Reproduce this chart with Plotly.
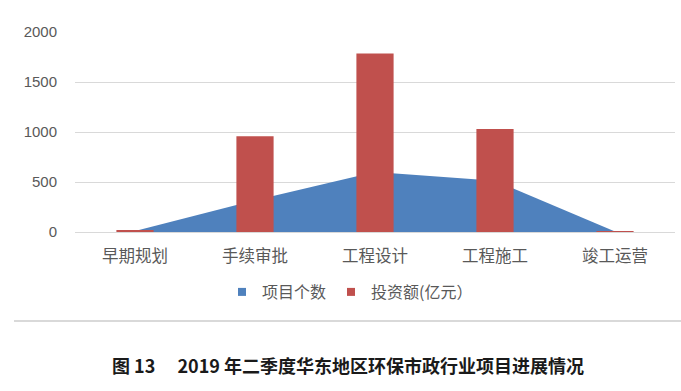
import plotly.graph_objects as go

categories = ['早期规划', '手续审批', '工程设计', '工程施工', '竣工运营']
project_count = [10, 318, 600, 512, 5]
investment = [20, 958, 1785, 1030, 8]
y_ticks = [0, 500, 1000, 1500, 2000]
series_names = ['项目个数', '投资额(亿元）']
caption = '图 13\u3000 2019 年二季度华东地区环保市政行业项目进展情况'

BLUE = '#4F81BD'
RED = '#C0504D'
GRAY_TXT = '#595959'
W, H = 681, 391

fig = go.Figure()
# area (behind bars, on main axis)
fig.add_trace(go.Scatter(x=categories, y=project_count, mode='none', fill='tozeroy',
                         fillcolor=BLUE, showlegend=False, hoverinfo='skip'))
# bars on overlaying axis so they draw above the area
fig.add_trace(go.Bar(x=categories, y=investment, marker=dict(color=RED, line=dict(width=0)),
                     width=0.31, yaxis='y2', showlegend=False))
# legend entries
fig.add_trace(go.Scatter(x=[None], y=[None], mode='markers', name=series_names[0],
                         marker=dict(symbol='square', size=8, color=BLUE)))
fig.add_trace(go.Scatter(x=[None], y=[None], mode='markers', name=series_names[1],
                         marker=dict(symbol='square', size=8, color=RED)))

ydom = [1 - 232 / H, 1 - 32 / H]
fig.update_layout(
    width=W, height=H, autosize=False,
    margin=dict(l=0, r=0, t=0, b=0, pad=0, autoexpand=False),
    paper_bgcolor='white', plot_bgcolor='white',
    font=dict(family='Noto Sans CJK SC, Liberation Sans', color=GRAY_TXT),
    xaxis=dict(domain=[75 / W, 675 / W], type='category', range=[-0.5, 4.5],
               showgrid=False, showline=False, zeroline=False, ticks='', automargin=False,
               ticklabelstandoff=12,
               tickfont=dict(size=16.5, color=GRAY_TXT, family='Noto Sans CJK SC'),
               anchor='y'),
    yaxis=dict(domain=ydom, range=[0, 2000], tickvals=y_ticks, automargin=False,
               showgrid=True, gridcolor='#D9D9D9', gridwidth=1,
               zeroline=True, zerolinecolor='#D9D9D9', zerolinewidth=1,
               showline=False, ticks='', ticklabelstandoff=17,
               tickfont=dict(size=15, color=GRAY_TXT, family='Liberation Sans')),
    yaxis2=dict(domain=ydom, range=[0, 2000], overlaying='y', visible=False, automargin=False),
    showlegend=True,
    legend=dict(orientation='h', x=222 / W, xanchor='left', y=1 - 292 / H, yanchor='middle',
                font=dict(size=16, color=GRAY_TXT, family='Noto Sans CJK SC'),
                itemwidth=30, tracegroupgap=0, bgcolor='rgba(0,0,0,0)'),
)

fig.add_shape(type='line', xref='paper', yref='paper', x0=14 / W, x1=1, y0=1 - 321 / H, y1=1 - 321 / H,
              line=dict(color='#D9D9D9', width=2))
fig.add_annotation(text='<b>' + caption + '</b>', xref='paper', yref='paper',
                   x=110 / W, xanchor='left', y=1 - 365 / H, yanchor='middle',
                   showarrow=False, font=dict(size=18, color='#1a1a1a', family='Noto Sans CJK SC'))

fig.write_html('out.html', config={'displayModeBar': False},
               post_script="document.body.style.margin='0';")
